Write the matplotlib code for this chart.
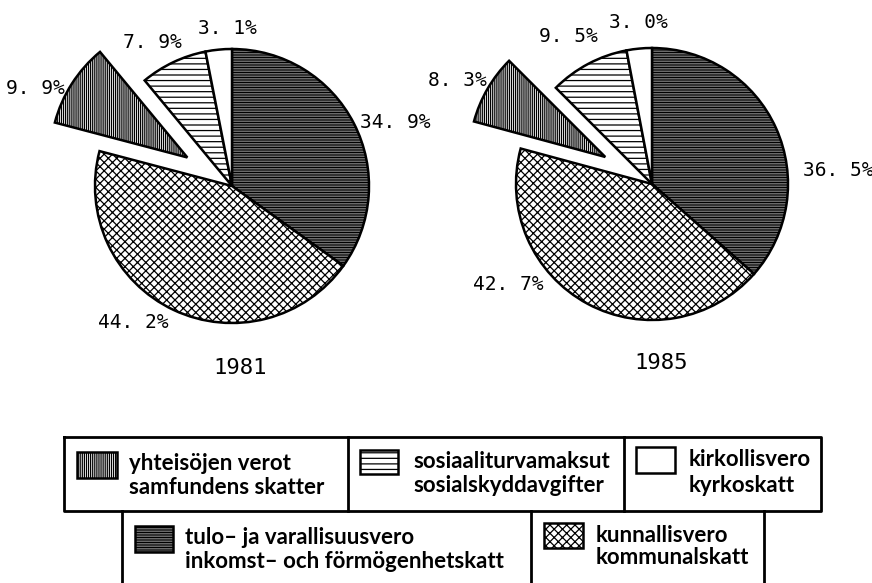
import numpy as np
import matplotlib.pyplot as plt
from matplotlib.patches import Rectangle

W, H = 872, 583

# data
categories = ["tulo", "kunnallis", "yhteisot", "sosiaali", "kirkko"]
values_1981 = [34.9, 44.2, 9.9, 7.9, 3.1]
values_1985 = [36.5, 42.7, 8.3, 9.5, 3.0]
years = ["1981", "1985"]
legend_fi = ["tulo\u2013 ja varallisuusvero", "kunnallisvero", "yhteisöjen verot",
             "sosiaaliturvamaksut", "kirkollisvero"]
legend_sv = ["inkomst\u2013 och förmögenhetskatt", "kommunalskatt", "samfundens skatter",
             "sosialskyddavgifter", "kyrkoskatt"]

hatches = ["----------", "xxxx", "||||||||", "---", ""]
plt.rcParams["hatch.linewidth"] = 0.9

fig = plt.figure(figsize=(W / 100, H / 100), dpi=100)
ax = fig.add_axes([0, 0, 1, 1])


def Y(y):
    return H - y


# pie layout (pixel coords); explode is an offset in pixels
pies = [
    dict(vals=values_1981, cx=232, cy=186, r=137, explode=53,
         lab=[(395, 122), (133, 323), (35, 88), (152, 42), (227, 28)], year=(240, 368)),
    dict(vals=values_1985, cx=652, cy=184, r=136, explode=54,
         lab=[(838, 170), (508, 285), (457, 80), (568, 37), (638, 23)], year=(661, 363)),
]

for p, yr in zip(pies, years):
    expl = [0, 0, p["explode"], 0, 0]
    wedges, _ = ax.pie(p["vals"], explode=expl, startangle=90, counterclock=False,
                       center=(p["cx"], Y(p["cy"])), radius=p["r"],
                       colors=["white"] * 5, hatch=hatches,
                       wedgeprops=dict(edgecolor="black", linewidth=1.8))
    for v, (lx, ly) in zip(p["vals"], p["lab"]):
        txt = f"{v:.1f}%".replace(".", ". ")
        ax.text(lx, Y(ly), txt, ha="center", va="center", fontsize=14,
                family="DejaVu Sans Mono")
    ax.text(p["year"][0], Y(p["year"][1]), yr, ha="center", va="center",
            fontsize=16, family="DejaVu Sans Mono")

ax.set_xlim(0, W)
ax.set_ylim(0, H)
ax.set_aspect("equal")
ax.axis("off")

# legend boxes
lw = 2.0
r1_top, r1_bot = 437, 511
ax.plot([64, 821, 821, 64, 64], [Y(r1_top), Y(r1_top), Y(r1_bot), Y(r1_bot), Y(r1_top)],
        color="black", lw=lw)
for x in (348, 624):
    ax.plot([x, x], [Y(r1_top), Y(r1_bot)], color="black", lw=lw)
for x in (122, 531, 764):
    ax.plot([x, x], [Y(r1_bot), Y(H)], color="black", lw=lw)

# swatch (x, y, w, h) and text start (x, y1, y2) per category
swatches = [(135, 526, 38, 26), (544, 523, 39, 25), (77, 452, 40, 26),
            (360, 450, 38, 24), (636, 447, 39, 26)]
text_pos = [(185, 538, 562), (596, 535, 558), (129, 463, 488),
            (413, 462, 486), (689, 460, 485)]

for i in range(len(categories)):
    sx, sy, sw, sh = swatches[i]
    ax.add_patch(Rectangle((sx, Y(sy + sh)), sw, sh, facecolor="white",
                           edgecolor="black", lw=1.8, hatch=hatches[i]))
    tx, ty1, ty2 = text_pos[i]
    ax.text(tx, Y(ty1), legend_fi[i], ha="left", va="center", fontsize=16,
            family="Lato", fontweight="bold")
    ax.text(tx, Y(ty2), legend_sv[i], ha="left", va="center", fontsize=16,
            family="Lato", fontweight="bold")

fig.savefig("out.png", dpi=100)
